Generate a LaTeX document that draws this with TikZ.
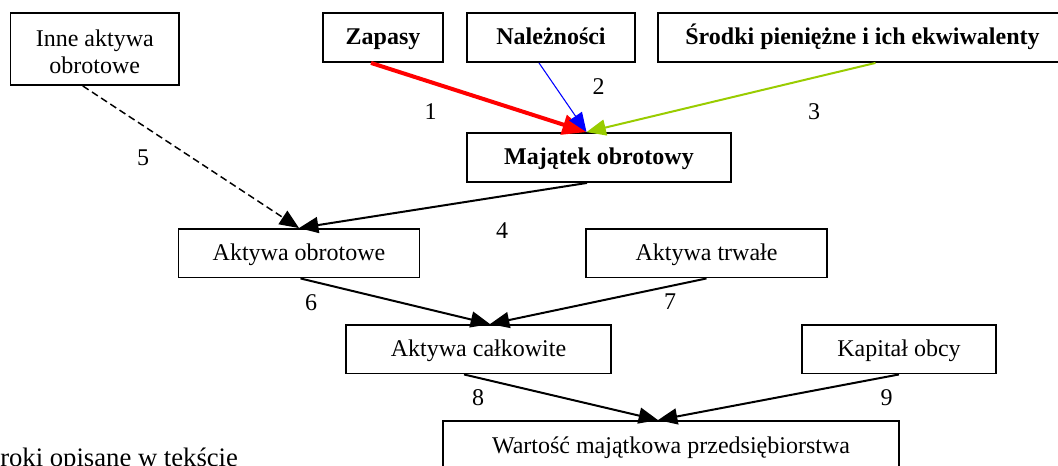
\documentclass[tikz,border=0pt]{standalone}
\usepackage{fontspec}
\setmainfont{Liberation Serif}
\usetikzlibrary{arrows.meta,calc}
\definecolor{arrowred}{RGB}{255,0,0}
\definecolor{arrowblue}{RGB}{0,0,255}
\definecolor{arrowlime}{RGB}{153,204,0}

\begin{document}
\begin{tikzpicture}[x=0.75pt,y=-0.75pt,
  box/.style={draw, line width=1.4pt, inner sep=0pt, align=center,
    minimum height=36.75pt, text height=13pt, text depth=1.8pt,
    font=\fontsize{18}{20.5}\selectfont},
  boldbox/.style={box, font=\fontsize{18}{20.5}\selectfont\bfseries},
  num/.style={inner sep=0pt, font=\fontsize{18}{20.5}\selectfont},
  link/.style={line width=1.5pt, -{Triangle[length=14.5pt,width=12pt]}},
  biglink/.style={line width=3pt, -{Triangle[length=18pt,width=15pt]}},
  thinlink/.style={line width=0.8pt, -{Triangle[length=14.5pt,width=11.5pt]}},
]
\useasboundingbox (0,0) rectangle (1058,465);

% top row: components of current assets
\node[draw, line width=1.4pt, inner sep=0pt, align=center, minimum width=126.4pt,
  minimum height=54pt, font=\fontsize{18}{20.25}\selectfont] (inne) at (94.75,49)
  {\rule{0pt}{16.8pt}Inne aktywa\\obrotowe};
\node[boldbox, minimum width=90pt] (zapasy) at (383,37.5) {Zapasy};
\node[boldbox, minimum width=126pt] (nalez) at (551,37.5) {Należności};
\node[boldbox, minimum width=306.75pt] (srodki) at (862.5,37.5) {Środki pieniężne i ich ekwiwalenty};

% middle and lower levels
\node[boldbox, minimum width=198pt] (majatek) at (599,157.5) {Majątek obrotowy};
\node[box, minimum width=180.75pt, minimum height=36.4pt] (akobr) at (299,253.25) {Aktywa obrotowe};
\node[box, minimum width=180.75pt, minimum height=36.4pt] (aktrw) at (706.5,253.25) {Aktywa trwałe};
\node[box, minimum width=198.75pt, minimum height=36.4pt] (akcalk) at (478.5,349.25) {Aktywa całkowite};
\node[box, minimum width=145.1pt, minimum height=36.4pt] (kapital) at (899,349.25) {Kapitał obcy};
\node[box, minimum width=342.4pt, minimum height=37.5pt] (wartosc) at (671,446) {Wartość majątkowa przedsiębiorstwa};

% step numbers
\node[num] (n1) at (430.6,112) {1};
\node[num] (n2) at (598.6,87) {2};
\node[num] (n3) at (814,112) {3};
\node[num] (n4) at (502,231) {4};
\node[num] (n5) at (143,158) {5};
\node[num] (n6) at (311,302.7) {6};
\node[num] (n7) at (670,301.7) {7};
\node[num] (n8) at (478,398) {8};
\node[num] (n9) at (886.5,398) {9};

% note
\node[anchor=base west, inner sep=0pt, font=\fontsize{20}{24}\selectfont] (note) at (0,466) {roki opisane w tekście};

% connectors
\coordinate (mtop) at ($(majatek.north)+(-12.5,0)$);
\draw[biglink, arrowred] ($(zapasy.south)+(-12,0)$) -- (mtop);
\draw[thinlink, arrowblue] ($(nalez.south)+(-12,0)$) -- (mtop);
\draw[link, arrowlime] ($(srodki.south)+(13,0)$) -- (mtop);

\draw[link] ($(majatek.south)+(-12,0)$) -- (akobr.north);
\draw[link, line width=1.1pt, dash pattern=on 5.25pt off 3pt] ($(inne.south)+(-12,0)$) -- (akobr.north);

\coordinate (ctop) at ($(akcalk.north)+(11.5,0)$);
\draw[link] ($(akobr.south)+(1.5,0)$) -- (ctop);
\draw[link] (aktrw.south) -- (ctop);

\coordinate (wtop) at ($(wartosc.north)+(-13,0)$);
\draw[link] ($(akcalk.south)+(-14.5,0)$) -- (wtop);
\draw[link] (kapital.south) -- (wtop);
\end{tikzpicture}
\end{document}
